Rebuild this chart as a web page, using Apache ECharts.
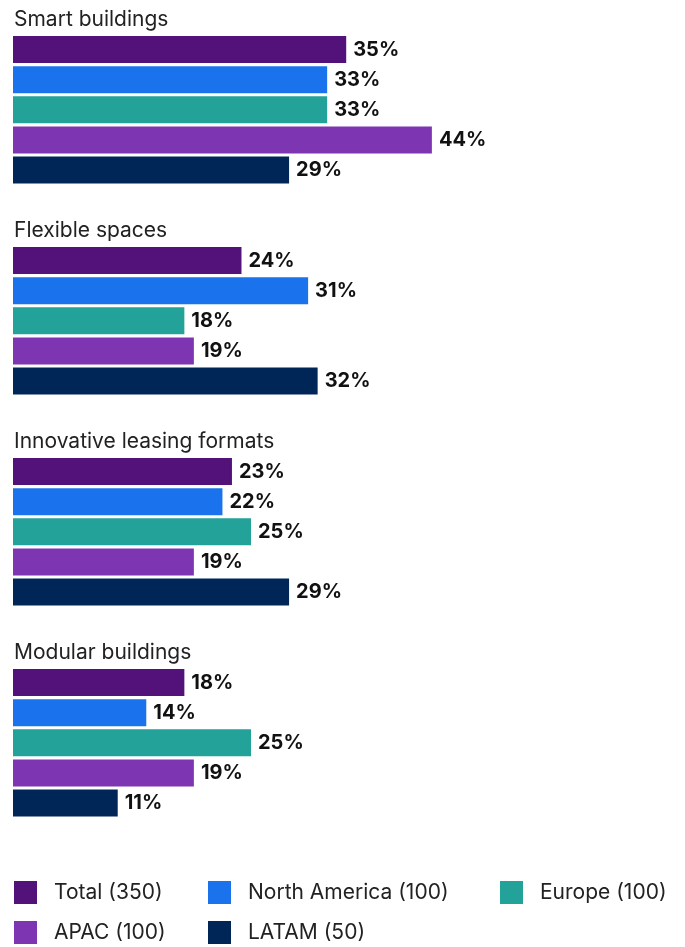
<!DOCTYPE html>
<html>
<head>
<meta charset="utf-8">
<script src="https://cdn.jsdelivr.net/npm/echarts@6/dist/echarts.min.js"></script>
<style>
  html, body { margin: 0; padding: 0; background: #ffffff; }
  #chart { width: 685px; height: 947px; }
</style>
</head>
<body>
<div id="chart"></div>
<script>
// Survey topics and respondent groups
const groups = ['Smart buildings', 'Flexible spaces', 'Innovative leasing formats', 'Modular buildings'];
const regions = ['Total (350)', 'North America (100)', 'Europe (100)', 'APAC (100)', 'LATAM (50)'];

// Share of respondents (%) per topic, in the order of `groups`
const total        = [35, 24, 23, 18];
const northAmerica = [33, 31, 22, 14];
const europe       = [33, 18, 25, 25];
const apac         = [44, 19, 19, 19];
const latam        = [29, 32, 29, 11];

const regionValues = [total, northAmerica, europe, apac, latam];
const colors = ['#52127a', '#1a72ed', '#23a29a', '#7e35b1', '#002658'];

// Each topic block: heading row, one row per region, spacer row
const SLOTS = 7;
const categories = [];
groups.forEach((g, gi) => {
  categories.push('title|' + gi);
  regions.forEach((r, ri) => categories.push('bar|' + gi + '|' + ri));
  categories.push('gap|' + gi);
});

const series = regions.map((name, ri) => {
  const data = categories.map(() => '-');
  groups.forEach((g, gi) => { data[gi * SLOTS + 1 + ri] = regionValues[ri][gi]; });
  return {
    name: name,
    type: 'bar',
    data: data,
    barWidth: 27,
    barGap: '-100%',
    itemStyle: { color: colors[ri] },
    label: {
      show: true,
      position: 'right',
      distance: 7,
      formatter: '{c}%',
      fontFamily: 'Inter',
      fontWeight: 'bold',
      fontSize: 20,
      color: '#111111',
      padding: [4, 0, 0, 0]
    }
  };
});

// One legend per entry so the entries sit in aligned columns
const legendPos = [
  { left: 14, top: 881 }, { left: 208, top: 881 }, { left: 500, top: 881 },
  { left: 14, top: 921 }, { left: 208, top: 921 }
];
const legends = regions.map((name, ri) => ({
  data: [name],
  left: legendPos[ri].left,
  top: legendPos[ri].top,
  padding: 0,
  icon: 'rect',
  itemWidth: 23,
  itemHeight: 23,
  selectedMode: false,
  textStyle: {
    fontFamily: 'Inter',
    fontSize: 21,
    color: '#222222',
    padding: [2, 0, 0, 12]
  }
}));

const chart = echarts.init(document.getElementById('chart'), null, { renderer: 'canvas' });
chart.setOption({
  animation: false,
  backgroundColor: '#ffffff',
  grid: { left: 13, width: 476, top: 4.3, height: 844, containLabel: false },
  xAxis: {
    type: 'value',
    min: 0,
    max: 50,
    show: false
  },
  yAxis: {
    type: 'category',
    inverse: true,
    data: categories,
    axisLine: { show: false },
    axisTick: { show: false },
    splitLine: { show: false },
    axisLabel: {
      inside: true,
      margin: 1,
      interval: 0,
      fontFamily: 'Inter',
      fontSize: 21,
      color: '#222222',
      formatter: (v) => {
        const parts = v.split('|');
        return parts[0] === 'title' ? groups[+parts[1]] : '';
      }
    }
  },
  legend: legends,
  series: series
});
</script>
</body>
</html>
